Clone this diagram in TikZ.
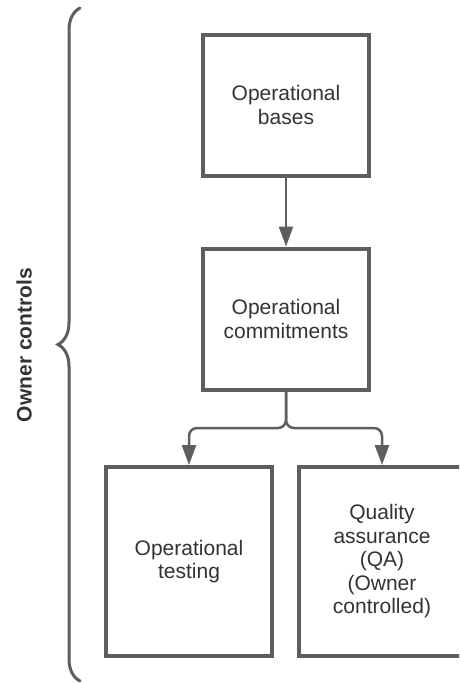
\documentclass[tikz,border=0pt]{standalone}
\usepackage{fontspec}
\setmainfont{Liberation Sans}
\usetikzlibrary{arrows.meta,decorations.pathreplacing}
\definecolor{edge}{RGB}{94,94,94}
\definecolor{ink}{RGB}{51,51,51}

\begin{document}
\begin{tikzpicture}[x=1pt,y=-1pt,
font=\fontsize{21}{23.5}\selectfont,
b/.style={
draw=edge,
line width=4pt,
fill=white,
text=ink,
align=center,
minimum width=166pt},
tb/.style={b,minimum height=141pt},
bb/.style={b,minimum height=189pt},
a/.style={draw=edge,line width=2.5pt,-{Triangle[width=14pt,length=20pt]}},
]
\useasboundingbox(0,0)rectangle(459,683);
\clip(0,0)rectangle(459,683);
%Top
\node[tb](bases)at(286,105){Operational\\bases};
\node[tb](commit)at(286,319){Operational\\commitments};
\draw[a](bases)--(commit);
%Bottom
\node[bb](testing)at(189,561.5){Operational\\testing};
\node[bb](qa)at(382,561.5){Quality\\assurance\\(QA)\\(Owner\\controlled)};
\coordinate(split)at(286,428);
\draw[a,rounded corners=8pt](commit)--(split)-|(testing);
\draw[a,rounded corners=8pt](commit)--(split)-|(qa);
%Brace
\coordinate(bot)at(80,681);
\coordinate(top)at(80,8);
\draw[edge,line width=3pt,line cap=round,decorate,decoration={brace,amplitude=22pt}](bot)--(top);
\node[rotate=90,font=\fontsize{21}{23}\selectfont\bfseries,text=ink](owner)at(24,345){Owner controls};
\end{tikzpicture}
\end{document}
